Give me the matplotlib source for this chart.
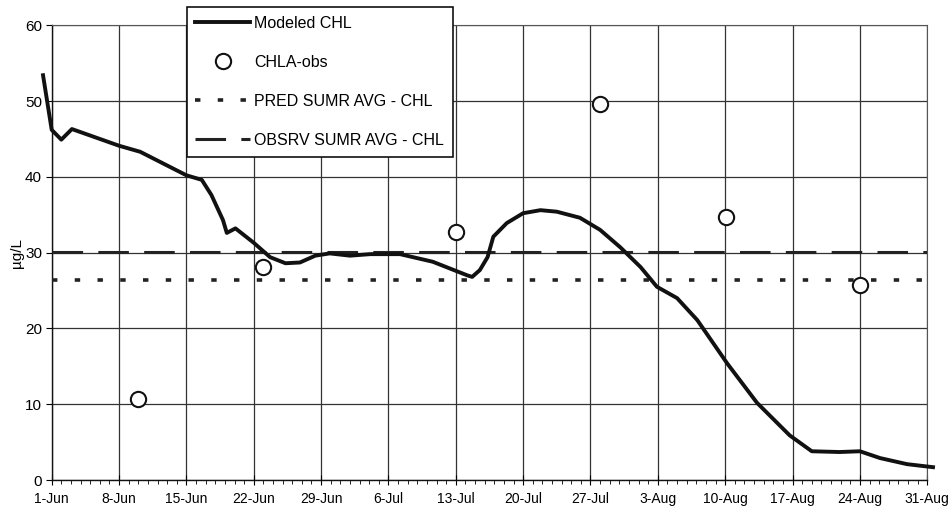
import matplotlib
matplotlib.use("Agg")
import matplotlib.pyplot as plt
import numpy as np

plt.rcParams['font.family'] = ['Liberation Sans', 'DejaVu Sans']

# days counted from 1-Jun (day 0)
model_day = [-0.9, 0, 1.0, 2.1, 7.0, 9.2, 14.0, 15.6, 16.6, 17.8, 18.2, 19.1, 21.0,
             22.7, 24.3, 25.8, 27.4, 28.9, 31.0, 33.1, 36.2, 39.6, 43.2, 43.7, 44.5,
             45.3, 45.9, 47.3, 49.0, 50.8, 52.5, 54.9, 57.0, 59.1, 61.2, 62.9, 65.0,
             67.1, 70.2, 73.3, 76.7, 79.0, 81.9, 84.0, 86.1, 88.9, 91.6]
model_chl = [53.4, 46.2, 44.9, 46.3, 44.1, 43.3, 40.2, 39.6, 37.6, 34.3, 32.6, 33.2, 31.3,
             29.4, 28.6, 28.7, 29.6, 29.9, 29.6, 29.8, 29.8, 28.8, 27.0, 26.8, 27.7,
             29.4, 32.1, 33.9, 35.2, 35.6, 35.4, 34.6, 33.0, 30.7, 28.1, 25.5, 24.0,
             21.1, 15.4, 10.2, 5.9, 3.8, 3.7, 3.8, 2.9, 2.1, 1.7]

obs_day = [9.0, 22.0, 42.0, 57.0, 70.1, 84.0]
obs_chl = [10.7, 28.1, 32.7, 49.6, 34.7, 25.7]

pred_avg = 26.4
obsrv_avg = 30.1

tick_days = [0, 7, 14, 21, 28, 35, 42, 49, 56, 63, 70, 77, 84, 91]
tick_labels = ['1-Jun', '8-Jun', '15-Jun', '22-Jun', '29-Jun', '6-Jul', '13-Jul',
               '20-Jul', '27-Jul', '3-Aug', '10-Aug', '17-Aug', '24-Aug', '31-Aug']

fig = plt.figure(figsize=(9.52, 5.14), dpi=100)
ax = fig.add_axes([0.0543, 0.066, 0.9197, 0.885])

ax.set_xlim(0, 91)
ax.set_ylim(0, 60)

ax.grid(True, which='major', color='#333333', linewidth=0.9)
ax.set_axisbelow(True)

ax.plot(model_day, model_chl, '-', color='#111111', linewidth=2.8,
        label='Modeled CHL', clip_on=False, zorder=4)
ax.plot(obs_day, obs_chl, 'o', markersize=11, markerfacecolor='white',
        markeredgecolor='#111111', markeredgewidth=1.5, linestyle='none',
        label='CHLA-obs', zorder=5)
ax.plot([0, 91], [pred_avg, pred_avg], color='#222222', linewidth=2.6,
        dashes=(1.5, 4.8), label='PRED SUMR AVG - CHL', zorder=3)
ax.plot([0, 91], [obsrv_avg, obsrv_avg], color='#222222', linewidth=2.2,
        dashes=(10, 5), label='OBSRV SUMR AVG - CHL', zorder=3)

ax.set_xticks(tick_days)
ax.set_xticklabels(tick_labels, fontsize=10)
ax.set_xticks(np.arange(0, 92, 1), minor=True)
ax.set_yticks(np.arange(0, 61, 10))
ax.tick_params(axis='y', labelsize=11, direction='out', length=4, pad=3)
ax.tick_params(axis='x', which='major', direction='inout', length=7, pad=5)
ax.tick_params(axis='x', which='minor', direction='out', length=3)

ax.set_ylabel('µg/L', fontsize=11)
ax.yaxis.set_label_coords(-0.032, 0.5)

for side in ['top', 'right']:
    ax.spines[side].set_color('#555555')
    ax.spines[side].set_linewidth(0.8)
for side in ['left', 'bottom']:
    ax.spines[side].set_color('#111111')
    ax.spines[side].set_linewidth(1.0)

leg = fig.legend(loc='upper left', bbox_to_anchor=(0.196, 0.986), fontsize=11.5,
                 frameon=True, fancybox=False, edgecolor='#111111', framealpha=1,
                 handlelength=3.4, labelspacing=1.5, borderpad=0.55, handletextpad=0.3,
                 borderaxespad=0)
leg.get_frame().set_linewidth(1.2)

fig.savefig('out.png', dpi=100)
